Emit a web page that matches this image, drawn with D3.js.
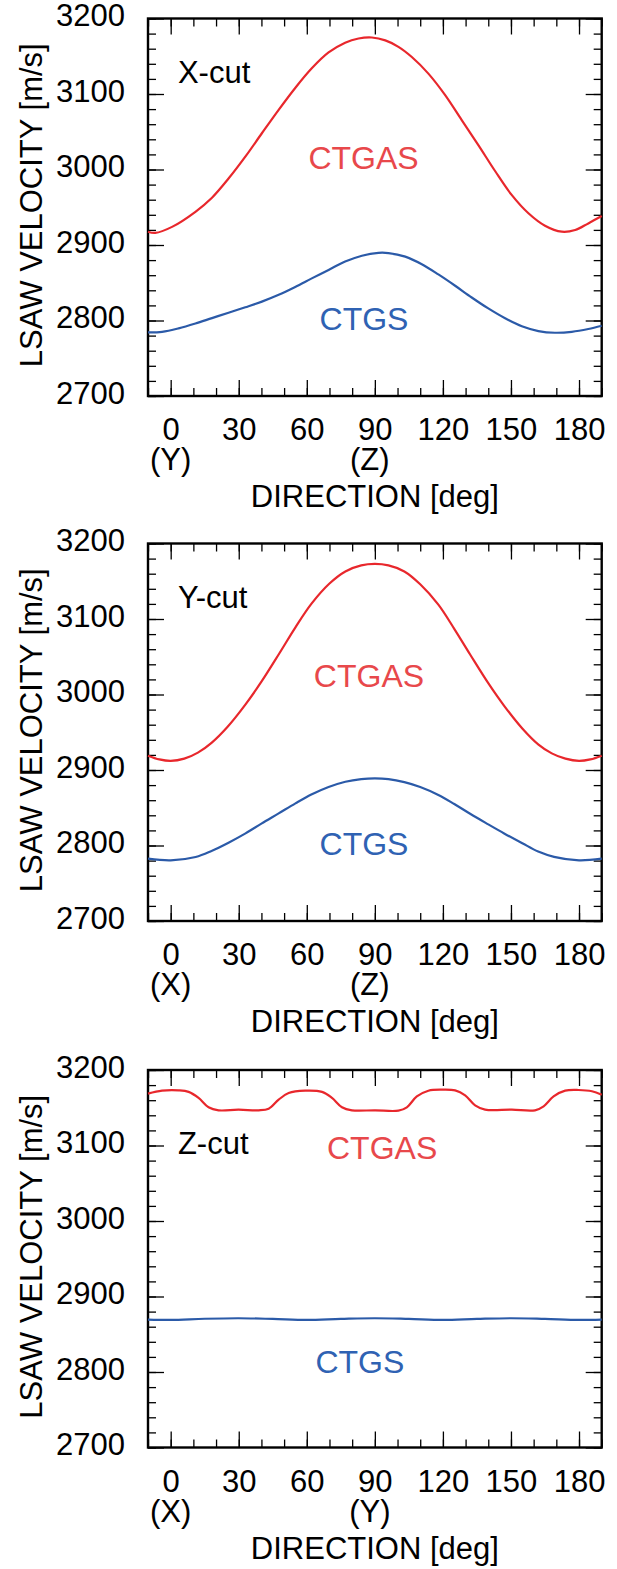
<!DOCTYPE html>
<html>
<head>
<meta charset="utf-8">
<script src="https://cdn.jsdelivr.net/npm/d3@7"></script>
<style>
  body { margin: 0; background: #fff; }
  svg text { font-family: "Liberation Sans", Arial, Helvetica, sans-serif; }
</style>
</head>
<body>
<svg id="chart" width="617" height="1569"></svg>
<script>
// axis ticks
const dirTicks = [0, 30, 60, 90, 120, 150, 180];
const velTicks = [2700, 2800, 2900, 3000, 3100, 3200];
const cutNames = ["X-cut", "Y-cut", "Z-cut"];
const dirNames = [["(Y)", "(Z)"], ["(X)", "(Z)"], ["(X)", "(Y)"]]; // under 0 and 90 deg
const seriesNames = ["CTGAS", "CTGS"];

// [direction (deg), LSAW velocity (m/s)]
const xcutCTGAS = [[-10,2917.6],[-6.8,2916],[0.6,2924],[10.9,2944],[18.2,2962.6],[25.5,2988],[32.9,3017],
  [40.2,3048],[47.6,3079],[54.9,3108],[62.2,3134],[69.6,3155],[76.9,3168],[82.8,3173.5],[88.7,3174.8],
  [94.6,3171],[100.4,3162.5],[106.3,3149],[113.6,3127],[121,3098.5],[128.3,3065.4],[135.7,3032],[143,2998],
  [150.4,2966],[157.7,2942],[165,2925.5],[172.4,2917.6],[178.3,2919.8],[184.1,2928.6],[190,2938.3]];
const xcutCTGS = [[-10,2784.3],[-3.8,2785],[3.5,2789.6],[10.9,2796],[18.2,2803.2],[25.5,2810.3],[32.9,2817.5],
  [40.2,2825],[47.6,2834],[54.9,2844.5],[62.2,2855.8],[69.6,2867],[76.9,2878],[84.3,2885.8],[91.6,2889.6],
  [96,2889.3],[103.4,2884.6],[110.7,2874.5],[118,2861],[125.4,2846],[132.7,2830.5],[140,2816],[147.4,2803],
  [154.8,2792.3],[162.1,2786],[169.4,2783.8],[176.8,2785],[184.1,2788.7],[190,2793]];

const ycutCTGAS = [[-10,2919],[-5,2914],[0,2912],[6,2915],[12,2923],[18,2936],[25,2957],[33,2987],[40,3017],
  [48,3055],[55,3089],[62,3120],[70,3147],[77,3163],[84,3171],[90,3173],[96,3171],[103,3163],[110,3146],
  [118,3119],[125,3087],[132,3053],[140,3015],[147,2985],[155,2955],[162,2934],[168,2922],[174,2915],
  [180,2912],[185,2914],[190,2919]];
const ycutCTGS = [[-10,2782.5],[0,2780.3],[11,2784.7],[18,2792.7],[25.5,2803.7],[33,2816],[40,2829],[47.6,2842.5],
  [55,2855.8],[62,2867.5],[69.6,2877.5],[77,2884.5],[84,2888],[90,2889],[96,2888],[103,2884],[110,2877.5],
  [118,2867],[125,2855],[132,2842],[140,2828],[147,2816],[155,2803],[162,2792],[169,2785],[180,2780.3],[190,2782.5]];

const zcutCTGAS = [[-10,3168.7],[-3.8,3172.6],[3.5,3173],[7.9,3171],[12.3,3163],[16.7,3150.6],[21.1,3146.6],
  [29.9,3147.5],[38.8,3146.6],[43.2,3148.8],[47.6,3160.7],[52,3169.5],[59.3,3172.6],[66.7,3171],[71.1,3163],
  [75.5,3150.6],[79.9,3146.6],[90.1,3146.6],[100.4,3146.2],[104.1,3150.6],[108.5,3165],[113.6,3172.6],
  [119.5,3174],[125.4,3173],[129.8,3166.5],[134.2,3153.2],[138.6,3147.5],[150.4,3147.5],[160.6,3146.6],
  [164.4,3151.9],[168.8,3165],[173.9,3172.6],[179.8,3173.5],[185.7,3171.8],[190,3167.3]];
const zcutCTGS = [[-10,2869.5],[0,2869],[15,2870.5],[30,2871.2],[45,2870.3],[60,2869],[75,2870.3],[90,2871.2],
  [105,2870.3],[120,2869],[135,2870.3],[150,2871.2],[165,2870.3],[180,2869],[190,2869.5]];

const panelSeries = [[xcutCTGAS, xcutCTGS], [ycutCTGAS, ycutCTGS], [zcutCTGAS, zcutCTGS]];

// label anchors in data units [deg, m/s] (baseline)
const cutLabelAt = [[3.2, 3114], [3.2, 3114], [3.2, 3089]];
const seriesLabelAt = [[[85, 3000.5], [85.2, 2787.5]], [[87.4, 3010.5], [85.2, 2787.5]], [[93.2, 3082.5], [83.4, 2798.5]]];

const lineColors = ["#e8272c", "#2b5aa8"];
const textColors = ["#e8484b", "#2f62b3"];

const svg = d3.select("#chart");
const left = 148, plotW = 453.7, plotH = 377.5;
const tops = [18.5, 543.5, 1070];
const fs = 31;

const x = d3.scaleLinear().domain([-10, 190]).range([left, left + plotW]);

function styleAxis(g) {
  g.select(".domain").remove();
  g.attr("font-family", null).attr("font-size", fs);
  g.selectAll(".tick line").attr("stroke", "#000").attr("stroke-width", 1.3);
  g.selectAll("text").attr("fill", "#000");
}

tops.forEach(function(top, i) {
  const y = d3.scaleLinear().domain([2700, 3200]).range([top + plotH, top]);
  const bottom = top + plotH;
  const g = svg.append("g");

  //minor ticks on all sides
  const minorV = d3.range(2700, 3201, 20);
  const minorD = d3.range(-10, 191, 10);
  g.append("g").attr("transform", "translate(" + left + ",0)")
    .call(d3.axisLeft(y).tickValues(minorV).tickSize(-8).tickFormat("")).call(styleAxis);
  g.append("g").attr("transform", "translate(" + (left + plotW) + ",0)")
    .call(d3.axisRight(y).tickValues(minorV).tickSize(-8).tickFormat("")).call(styleAxis);
  g.append("g").attr("transform", "translate(0," + bottom + ")")
    .call(d3.axisBottom(x).tickValues(minorD).tickSize(-8).tickFormat("")).call(styleAxis);
  g.append("g").attr("transform", "translate(0," + top + ")")
    .call(d3.axisTop(x).tickValues(minorD).tickSize(-8).tickFormat("")).call(styleAxis);

  //major ticks
  g.append("g").attr("transform", "translate(" + left + ",0)")
    .call(d3.axisLeft(y).tickValues(velTicks).tickSize(-16).tickPadding(23).tickFormat(d3.format("d")))
    .call(styleAxis)
    .selectAll("text").attr("dy", "0.23em");
  g.append("g").attr("transform", "translate(" + (left + plotW) + ",0)")
    .call(d3.axisRight(y).tickValues(velTicks).tickSize(-16).tickFormat("")).call(styleAxis);
  g.append("g").attr("transform", "translate(0," + bottom + ")")
    .call(d3.axisBottom(x).tickValues(dirTicks).tickSize(-16).tickPadding(22).tickFormat(d3.format("d")))
    .call(styleAxis);
  g.append("g").attr("transform", "translate(0," + top + ")")
    .call(d3.axisTop(x).tickValues(dirTicks).tickSize(-16).tickFormat("")).call(styleAxis);

  //frame
  g.append("rect")
    .attr("x", left).attr("y", top)
    .attr("width", plotW).attr("height", plotH)
    .attr("fill", "none").attr("stroke", "#000").attr("stroke-width", 2.4);

  //curves
  const line = d3.line()
    .x(function(d) { return x(d[0]); })
    .y(function(d) { return y(d[1]); })
    .curve(d3.curveCatmullRom.alpha(0.5));
  panelSeries[i].forEach(function(s, k) {
    g.append("path").datum(s)
      .attr("d", line)
      .attr("fill", "none")
      .attr("stroke", lineColors[k])
      .attr("stroke-width", 2.2)
      .attr("stroke-linejoin", "round");
  });

  //series labels
  seriesLabelAt[i].forEach(function(p, k) {
    g.append("text")
      .text(seriesNames[k])
      .attr("x", x(p[0])).attr("y", y(p[1]))
      .attr("text-anchor", "middle")
      .attr("font-size", 32)
      .attr("fill", textColors[k]);
  });

  //cut label
  g.append("text")
    .text(cutNames[i])
    .attr("x", x(cutLabelAt[i][0])).attr("y", y(cutLabelAt[i][1]))
    .attr("font-size", fs);

  //crystal axis under 0 and 90
  g.append("text").text(dirNames[i][0])
    .attr("x", x(0)).attr("y", bottom + 74)
    .attr("text-anchor", "middle").attr("font-size", fs);
  g.append("text").text(dirNames[i][1])
    .attr("x", x(90) - 5).attr("y", bottom + 74)
    .attr("text-anchor", "middle").attr("font-size", fs);

  //axis titles
  g.append("text").text("DIRECTION [deg]")
    .attr("x", left + plotW / 2).attr("y", bottom + 111)
    .attr("text-anchor", "middle").attr("font-size", fs);
  g.append("text").text("LSAW VELOCITY [m/s]")
    .attr("transform", "translate(41.5," + (top + plotH / 2 - 2) + ") rotate(-90)")
    .attr("text-anchor", "middle").attr("font-size", fs);
});
</script>
</body>
</html>
